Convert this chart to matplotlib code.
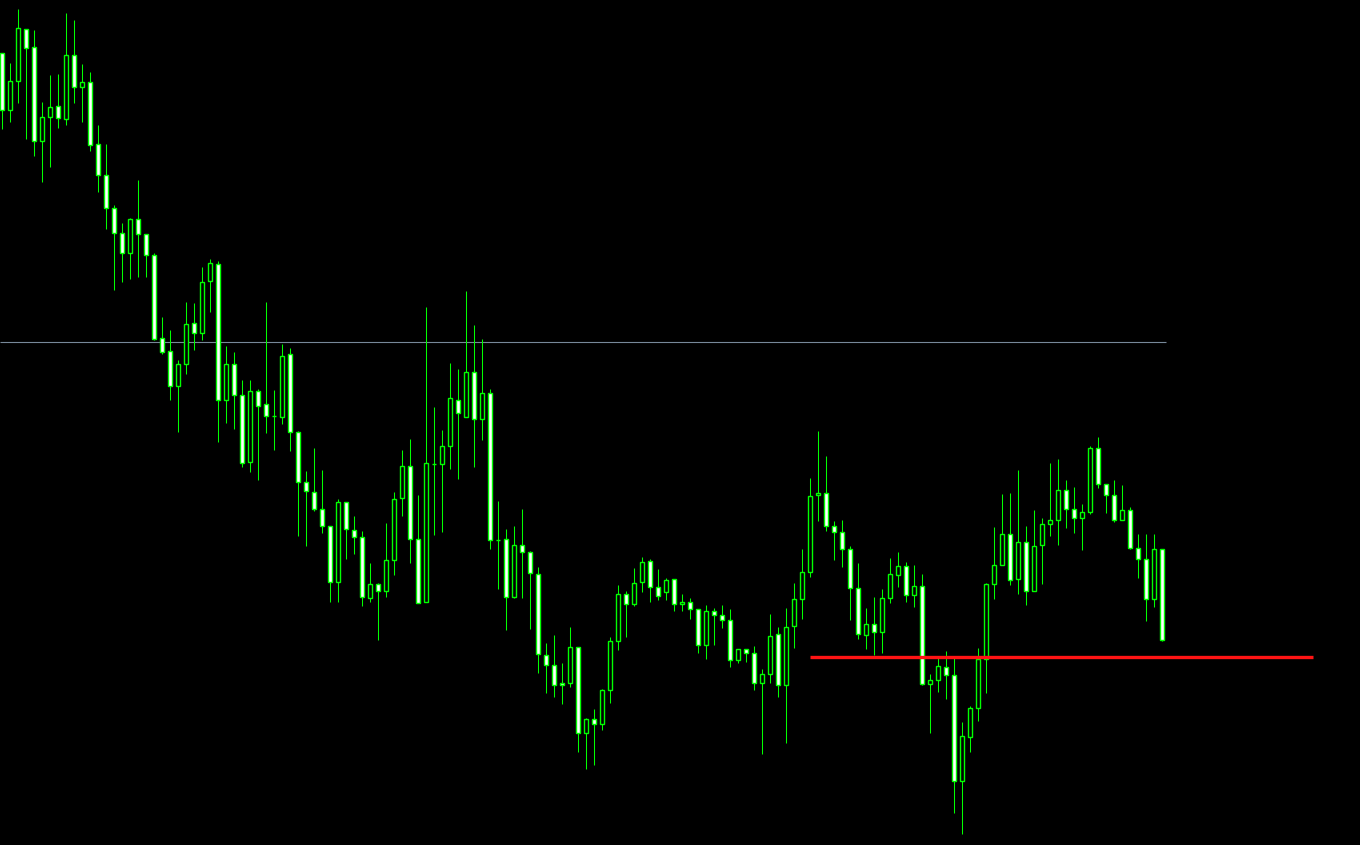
import matplotlib
matplotlib.use("Agg")
import matplotlib.pyplot as plt
import numpy as np

# OHLC (price in points)
opens = [947, 890, 919, 971, 953, 859, 883, 894, 881, 945, 913, 918, 856, 825, 792, 767, 747, 781, 766, 745,
         662, 649, 614, 636, 677, 667, 719, 736, 600, 636, 605, 538, 609, 596, 584, 583, 646, 568, 518, 508,
         491, 474, 418, 498, 470, 463, 402, 416, 409, 440, 502, 534, 461, 398, 536, 536, 554, 600, 583, 628,
         581, 607, 460, 461, 403, 455, 448, 426, 345, 335, 317, 317, 353, 267, 281, 276, 310, 359, 406, 396,
         418, 439, 413, 408, 421, 396, 398, 391, 355, 389, 385, 380, 340, 351, 347, 317, 326, 366, 315, 374,
         401, 428, 505, 507, 474, 468, 451, 412, 365, 376, 368, 402, 425, 434, 405, 414, 316, 320, 333, 325,
         219, 263, 292, 341, 416, 435, 466, 421, 458, 409, 455, 476, 480, 510, 491, 482, 488, 552, 516, 505,
         480, 490, 452, 441, 401, 451]
highs = [947, 937, 991, 971, 970, 898, 925, 926, 987, 980, 936, 928, 875, 856, 795, 777, 782, 820, 766, 747,
         683, 670, 640, 698, 697, 733, 741, 739, 654, 648, 620, 620, 611, 698, 610, 656, 652, 569, 529, 552,
         530, 474, 501, 498, 484, 469, 437, 417, 477, 508, 550, 561, 505, 693, 593, 570, 637, 631, 709, 675,
         661, 611, 499, 471, 474, 491, 449, 433, 357, 365, 337, 373, 353, 282, 291, 311, 363, 415, 409, 432,
         443, 441, 431, 422, 421, 406, 402, 391, 395, 392, 395, 391, 351, 351, 354, 331, 386, 373, 392, 417,
         451, 522, 569, 544, 479, 480, 454, 437, 392, 403, 411, 442, 448, 438, 435, 426, 326, 342, 349, 342,
         278, 294, 352, 417, 473, 506, 507, 530, 474, 490, 482, 537, 541, 520, 513, 496, 554, 563, 516, 520,
         515, 493, 466, 466, 466, 451]
lows = [871, 878, 897, 861, 844, 818, 833, 872, 875, 897, 878, 849, 808, 771, 710, 718, 721, 723, 723, 660,
        646, 600, 568, 626, 650, 660, 688, 558, 577, 571, 533, 528, 520, 567, 550, 576, 549, 464, 454, 489,
        467, 398, 398, 441, 446, 394, 398, 360, 403, 425, 484, 437, 397, 398, 465, 468, 531, 521, 583, 533,
        560, 451, 411, 370, 402, 402, 371, 327, 307, 303, 296, 313, 248, 231, 235, 270, 297, 350, 363, 394,
        408, 398, 400, 400, 389, 389, 381, 347, 341, 355, 372, 333, 337, 338, 310, 246, 317, 303, 257, 352,
        381, 423, 479, 469, 440, 433, 380, 361, 351, 345, 347, 397, 413, 398, 393, 315, 267, 308, 301, 187,
        166, 248, 279, 307, 401, 435, 415, 406, 395, 409, 416, 464, 455, 472, 467, 450, 486, 512, 487, 478,
        480, 451, 422, 379, 393, 359]
closes = [890, 919, 972, 952, 859, 883, 893, 882, 945, 913, 918, 855, 825, 792, 767, 747, 781, 766, 745, 661,
          648, 614, 636, 676, 667, 718, 737, 600, 636, 605, 537, 609, 594, 584, 584, 644, 568, 518, 509, 491,
          474, 418, 498, 471, 463, 403, 416, 409, 440, 501, 534, 461, 397, 537, 536, 554, 602, 587, 628, 581,
          607, 460, 460, 403, 455, 448, 427, 346, 335, 315, 315, 353, 267, 281, 276, 310, 359, 406, 396, 417,
          438, 413, 404, 420, 396, 398, 391, 355, 389, 385, 380, 340, 351, 347, 317, 326, 364, 315, 373, 401,
          428, 504, 507, 474, 468, 451, 412, 366, 376, 368, 402, 426, 434, 405, 414, 316, 320, 334, 325, 219,
          264, 292, 341, 416, 435, 466, 420, 458, 409, 454, 476, 480, 510, 491, 482, 488, 552, 516, 505, 480,
          490, 452, 441, 401, 451, 360]

grey_level = 658
red_level = 343
red_start, red_end = 100.96, 163.8

GREEN = "#00ff00"

opens = np.array(opens)
highs = np.array(highs)
lows = np.array(lows)
closes = np.array(closes)
x = np.arange(len(opens))

fig = plt.figure(figsize=(13.6, 8.452), dpi=100, facecolor="black")
ax = fig.add_axes([0, 0, 1, 1])
ax.set_facecolor("black")

# wicks
ax.vlines(x, lows, highs, color=GREEN, linewidth=0.75, zorder=2)

# bodies: bear = white fill, bull = black fill
bear = closes < opens
body_bottom = np.minimum(opens, closes)
body_height = np.abs(closes - opens)
face = np.where(bear, "white", "black")
ax.bar(x, body_height, bottom=body_bottom, width=0.5, color=face,
       edgecolor=GREEN, linewidth=1.0, zorder=3)

ax.hlines(grey_level, -0.3, len(opens) - 0.5, color="#778899", linewidth=0.8, zorder=1)
ax.hlines(red_level, red_start, red_end, color="#ff1414", linewidth=2.4, zorder=4)

ax.set_xlim(-0.2875, 170 - 0.2875)
ax.set_ylim(155, 1000)
ax.axis("off")

fig.savefig("out.png", dpi=100, facecolor="black")
